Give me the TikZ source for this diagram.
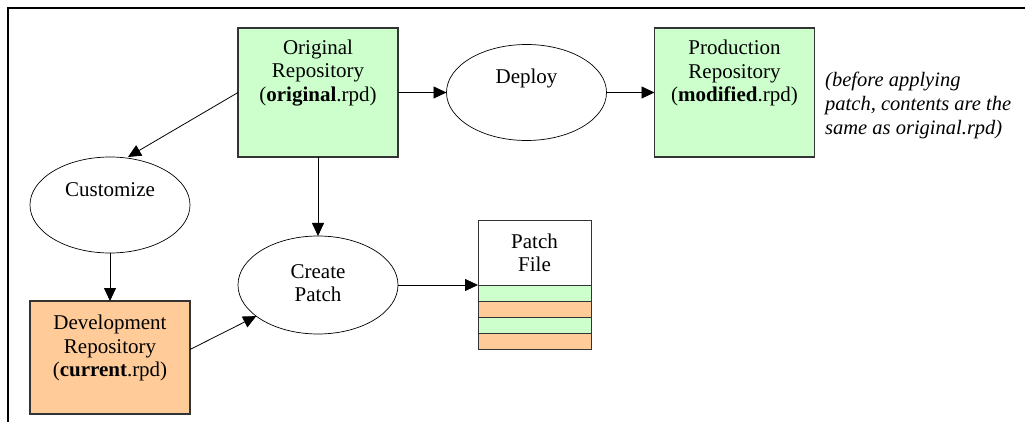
\documentclass[tikz,border=0pt]{standalone}
\usepackage{fontspec}
\setmainfont{Liberation Serif}
\usetikzlibrary{arrows.meta}
\definecolor{rgreen}{HTML}{CCFFCC}
\definecolor{rorange}{HTML}{FFCC99}
\definecolor{lineg}{HTML}{333333}
\tikzset{
  repo/.style={draw=lineg, line width=1.2pt, minimum width=160pt, minimum height=129pt, inner sep=0pt, outer sep=0pt},
  proc/.style={draw=black, line width=0.7pt, ellipse, minimum width=160pt, minimum height=96pt, inner sep=0pt, outer sep=0pt},
  txt/.style={align=center, inner sep=0pt, font=\fontsize{21}{23.5}\selectfont},
  note/.style={align=left, inner sep=0pt, anchor=west, font=\fontsize{20.5}{24}\selectfont\itshape},
  stripe/.style={draw=lineg, line width=1pt, minimum width=113pt, minimum height=16pt, inner sep=0pt, outer sep=0pt},
  arr/.style={-{Triangle[length=13pt,width=12pt]}, line width=0.8pt},
}
\usetikzlibrary{shapes.geometric}
\begin{document}
\begin{tikzpicture}[x=1pt,y=-1pt]
\useasboundingbox (0,0) rectangle (1025,422);
\fill[white] (0,0) rectangle (1025,422);
\draw[line width=1.5pt, black] (8,422) -- (8,8) -- (1025,8);

% repositories
\node[repo, fill=rgreen] (orig) at (318,92.5) {};
\node[txt] (origt) at (318,73) {Original\\Repository\\(\textbf{original}.rpd)};
\node[repo, fill=rgreen] (prod) at (734.5,92.5) {};
\node[txt] (prodt) at (734.5,73) {Production\\Repository\\(\textbf{modified}.rpd)};
\node[repo, fill=rorange, minimum height=113pt] (dev) at (110,357.5) {};
\node[txt] (devt) at (110,348) {Development\\Repository\\(\textbf{current}.rpd)};

% processes
\node[proc] (deploy) at (526.5,92.5) {};
\node[txt] (deployt) at (526.5,78) {Deploy};
\node[proc] (cust) at (110,205) {};
\node[txt] (custt) at (110,190) {Customize};
\node[proc, minimum height=98pt] (cp) at (318,285) {};
\node[txt] (cpt) at (318,283) {Create\\Patch};

% note
\node[note] (note) at (825,105) {(before applying\\patch, contents are the\\same as original.rpd)};

% patch file
\node[stripe, minimum height=64pt, fill=white] (pf) at (534.5,253) {};
\node[txt] (pft) at (534.5,253) {Patch\\File};
\node[stripe, fill=rgreen] (s1) at (534.5,293) {};
\node[stripe, fill=rorange] (s2) at (534.5,309) {};
\node[stripe, fill=rgreen] (s3) at (534.5,325) {};
\node[stripe, fill=rorange] (s4) at (534.5,341) {};

% connectors
\draw[arr] (orig.east) -- (deploy.west);
\draw[arr] (deploy.east) -- (prod.west);
\draw[arr] (orig.west) -- ([xshift=18pt]cust.north);
\draw[arr] (cust.south) -- (dev.north);
\draw[arr] (orig.south) -- (cp.north);
\draw[arr] ([yshift=8pt]dev.east) -- (cp);
\draw[arr] (cp.east) -- (cp.east -| pf.west);
\end{tikzpicture}
\end{document}
